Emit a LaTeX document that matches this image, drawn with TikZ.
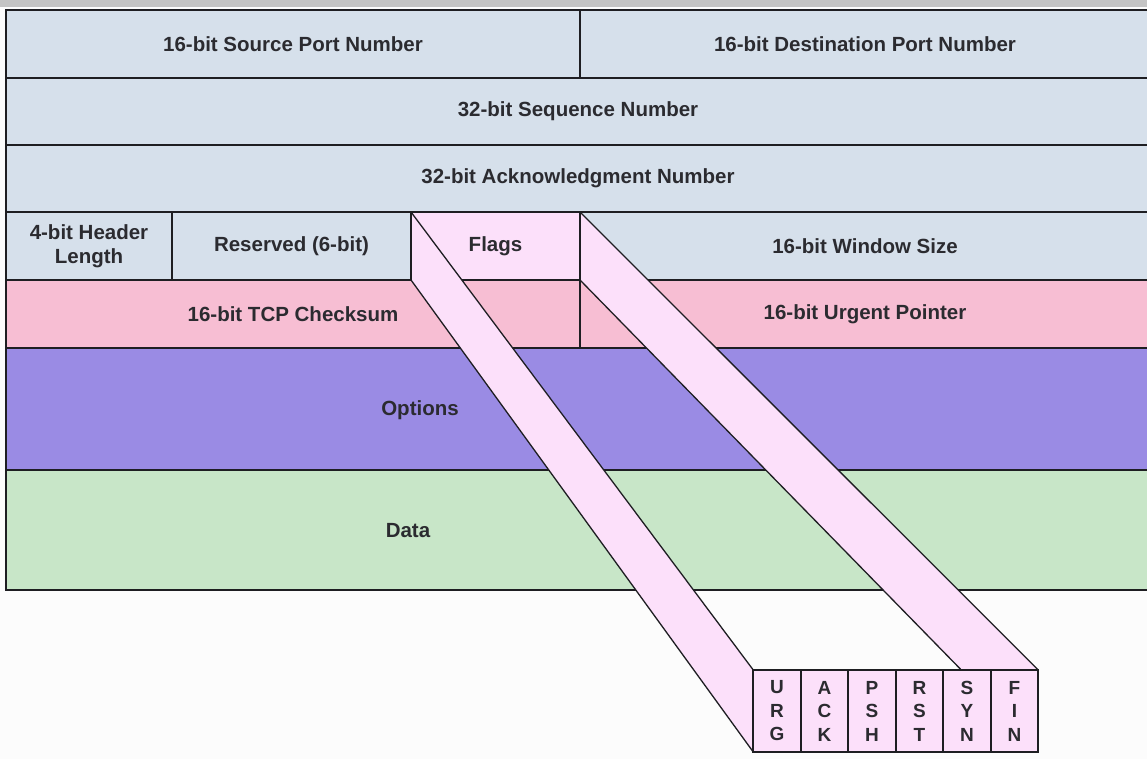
\documentclass[tikz,border=0pt]{standalone}
\usepackage{fontspec}
\setmainfont{Liberation Sans}
\usetikzlibrary{calc,positioning}

\definecolor{hdrblue}{HTML}{D6E0EB}
\definecolor{hdrpink}{HTML}{F7BED3}
\definecolor{optpurple}{HTML}{9A8BE4}
\definecolor{datagreen}{HTML}{C8E6C8}
\definecolor{flagpink}{HTML}{FCE0FA}
\definecolor{edge}{HTML}{1E1E22}
\definecolor{ink}{HTML}{2B2B30}
\definecolor{topbar}{HTML}{C4C4C4}

% one header field: name, fill, x1, y1, x2, y2, text
\newcommand\hdrcell[7]{%
  \node[field, fill=#2, minimum width={(#5-#3)*1pt}, minimum height={(#6-#4)*1pt}]
    (#1) at ({(#3+#5)/2},{(#4+#6)/2}) {#7};}

\begin{document}
\begin{tikzpicture}[x=1pt, y=-1pt,
  field/.style={draw=edge, line width=2.4pt, inner sep=0pt, outer sep=0pt,
    text=ink, align=center, font=\bfseries\fontsize{20.5}{24}\selectfont},
  label/.style={inner sep=0pt, text=ink, font=\bfseries\fontsize{20.5}{24}\selectfont},
  bit/.style={draw=edge, line width=2.4pt, fill=flagpink, inner sep=0pt, outer sep=0pt,
    minimum width=47.5pt, minimum height=82pt, text=ink, align=center,
    font=\bfseries\fontsize{19}{23.5}\selectfont},
  ribbon/.style={fill=flagpink},
  fold/.style={draw=edge, line width=1.3pt}]

\useasboundingbox (0,0) rectangle (1147,759);
\fill[white!99!black] (0,0) rectangle (1147,759);
\fill[topbar] (0,0) rectangle (1147,7);

\begin{scope}
\clip (0,0) rectangle (1147,759);
% header rows
\hdrcell{src}{hdrblue}{6}{10}{580}{78}{16-bit Source Port Number}
\hdrcell{dst}{hdrblue}{580}{10}{1150}{78}{16-bit Destination Port Number}
\hdrcell{seq}{hdrblue}{6}{78}{1150}{145}{32-bit Sequence Number}
\hdrcell{ack}{hdrblue}{6}{145}{1150}{212}{32-bit Acknowledgment Number}
\hdrcell{hlen}{hdrblue}{6}{212}{172}{280}{4-bit Header\\Length}
\hdrcell{resv}{hdrblue}{172}{212}{411}{280}{Reserved (6-bit)}
\hdrcell{flags}{flagpink}{411}{212}{580}{280}{Flags}
\hdrcell{win}{hdrblue}{580}{212}{1150}{280}{16-bit Window Size}
\hdrcell{csum}{hdrpink}{6}{280}{580}{348}{16-bit TCP Checksum}
\hdrcell{urg}{hdrpink}{580}{280}{1150}{348}{16-bit Urgent Pointer}
\hdrcell{opt}{optpurple}{6}{348}{1150}{470}{}
\hdrcell{data}{datagreen}{6}{470}{1150}{590}{}
\node[label] (optlabel) at (420,410) {Options};
\node[label] (datalabel) at (408,531) {Data};
\end{scope}

% the six flag bits
\node[bit] (URG) at (777,711) {U\\R\\G};
\node[bit, right=0pt of URG] (ACK) {A\\C\\K};
\node[bit, right=0pt of ACK] (PSH) {P\\S\\H};
\node[bit, right=0pt of PSH] (RST) {R\\S\\T};
\node[bit, right=0pt of RST] (SYN) {S\\Y\\N};
\node[bit, right=0pt of SYN] (FIN) {F\\I\\N};
\coordinate (synfold) at ($(SYN.north west)!0.38!(SYN.north east)$);

% ribbons joining the Flags field to the bit strip
\fill[ribbon] (flags.north west) -- (URG.north west) -- (URG.south west) -- (flags.south west) -- cycle;
\fill[ribbon] (flags.north east) -- (FIN.north east) -- (synfold) -- (flags.south east) -- cycle;
\draw[fold] (flags.north west) -- (URG.north west);
\draw[fold] (flags.south west) -- (URG.south west);
\draw[fold] (flags.north east) -- (FIN.north east);
\draw[fold] (flags.south east) -- (synfold);
\draw[draw=edge, line width=2.4pt] (flags.north west) -- (flags.south west);
\draw[draw=edge, line width=2.4pt] (flags.north east) -- (flags.south east);

% outline the strip again over the ribbon ends
\foreach \b in {URG, ACK, PSH, RST, SYN, FIN}
  \draw[draw=edge, line width=2.4pt] (\b.north west) rectangle (\b.south east);
\end{tikzpicture}
\end{document}
